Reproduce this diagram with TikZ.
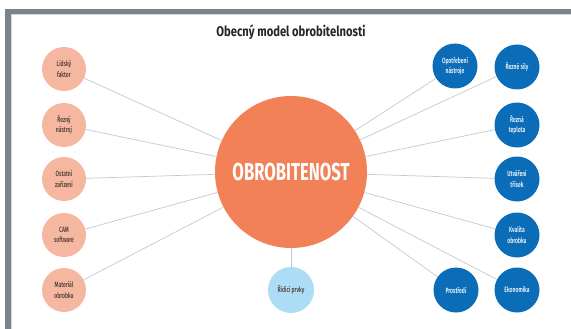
\documentclass[tikz,border=0pt]{standalone}
\usepackage{fontspec}
\setmainfont{Fira Sans}
\newfontfamily\cond{Fira Sans Medium}[FakeStretch=0.66]
\newfontfamily\condb{Fira Sans}[FakeStretch=0.80]
\newfontfamily\condm{Fira Sans}[FakeStretch=0.68]
\definecolor{frameg}{HTML}{7A8589}
\definecolor{framel}{HTML}{D3D9DB}
\definecolor{salmon}{HTML}{F5B79F}
\definecolor{coral}{HTML}{F28157}
\definecolor{bluen}{HTML}{0B6CB7}
\definecolor{lblue}{HTML}{ADDCF5}
\definecolor{linec}{HTML}{C3CBCE}
\definecolor{darkt}{HTML}{4A3A34}
\tikzset{
  smallf/.style={font=\cond\fontsize{7.6}{10.5}\selectfont},
  leftn/.style={circle, fill=salmon, minimum size=44pt, inner sep=0pt, align=center, smallf, text=darkt},
  rightn/.style={circle, fill=bluen, minimum size=45pt, inner sep=0pt, align=center, smallf, text=white},
  ctrl/.style={circle, fill=lblue, minimum size=46pt, inner sep=0pt, align=center, smallf, text=darkt},
  mainn/.style={circle, fill=coral, minimum size=152pt, inner sep=0pt, font=\condm\bfseries\fontsize{24.5}{28}\selectfont, text=white},
  conn/.style={draw=linec, line width=0.7pt}
}
\begin{document}
\begin{tikzpicture}[x=1pt,y=-1pt]
\useasboundingbox (0,0) rectangle (571,329);
\fill[white] (0,0) rectangle (571,329);
\fill[frameg] (5,9) rectangle (571,329);
\fill[framel] (11,14) rectangle (571,329);
\fill[white] (12,15) rectangle (571,329);
\node[font=\condb\bfseries\fontsize{14}{16}\selectfont, text=black!85] (title) at (291,32) {Obecný model obrobitelnosti};
\node[mainn] (c) at (291,172) {OBROBITENOST};
\node[leftn] (l1) at (64,69) {Lidský\\faktor};
\node[leftn] (l2) at (64,125) {Řezný\\nástroj};
\node[leftn] (l3) at (64,179) {Ostatní\\zařízení};
\node[leftn] (l4) at (64,235) {CAM\\software};
\node[leftn] (l5) at (64,290) {Materiál\\obrobku};
\node[rightn] (r0) at (455,66) {Opotřebení\\nástroje};
\node[rightn] (r1) at (517,67) {Řezné síly};
\node[rightn] (r2) at (517,125) {Řezná\\teplota};
\node[rightn] (r3) at (517,179) {Utváření\\třísek};
\node[rightn] (r4) at (517,235) {Kvalita\\obrobku};
\node[rightn] (r5) at (517,290) {Ekonomika};
\node[rightn] (r6) at (456,290) {Prostředí};
\node[ctrl] (d) at (291,290) {Řídicí prvky};
\foreach \n in {l1,l2,l3,l4,l5,r0,r1,r2,r3,r4,r5,r6,d}{
  \draw[conn] (c) -- (\n);
}
\end{tikzpicture}
\end{document}
